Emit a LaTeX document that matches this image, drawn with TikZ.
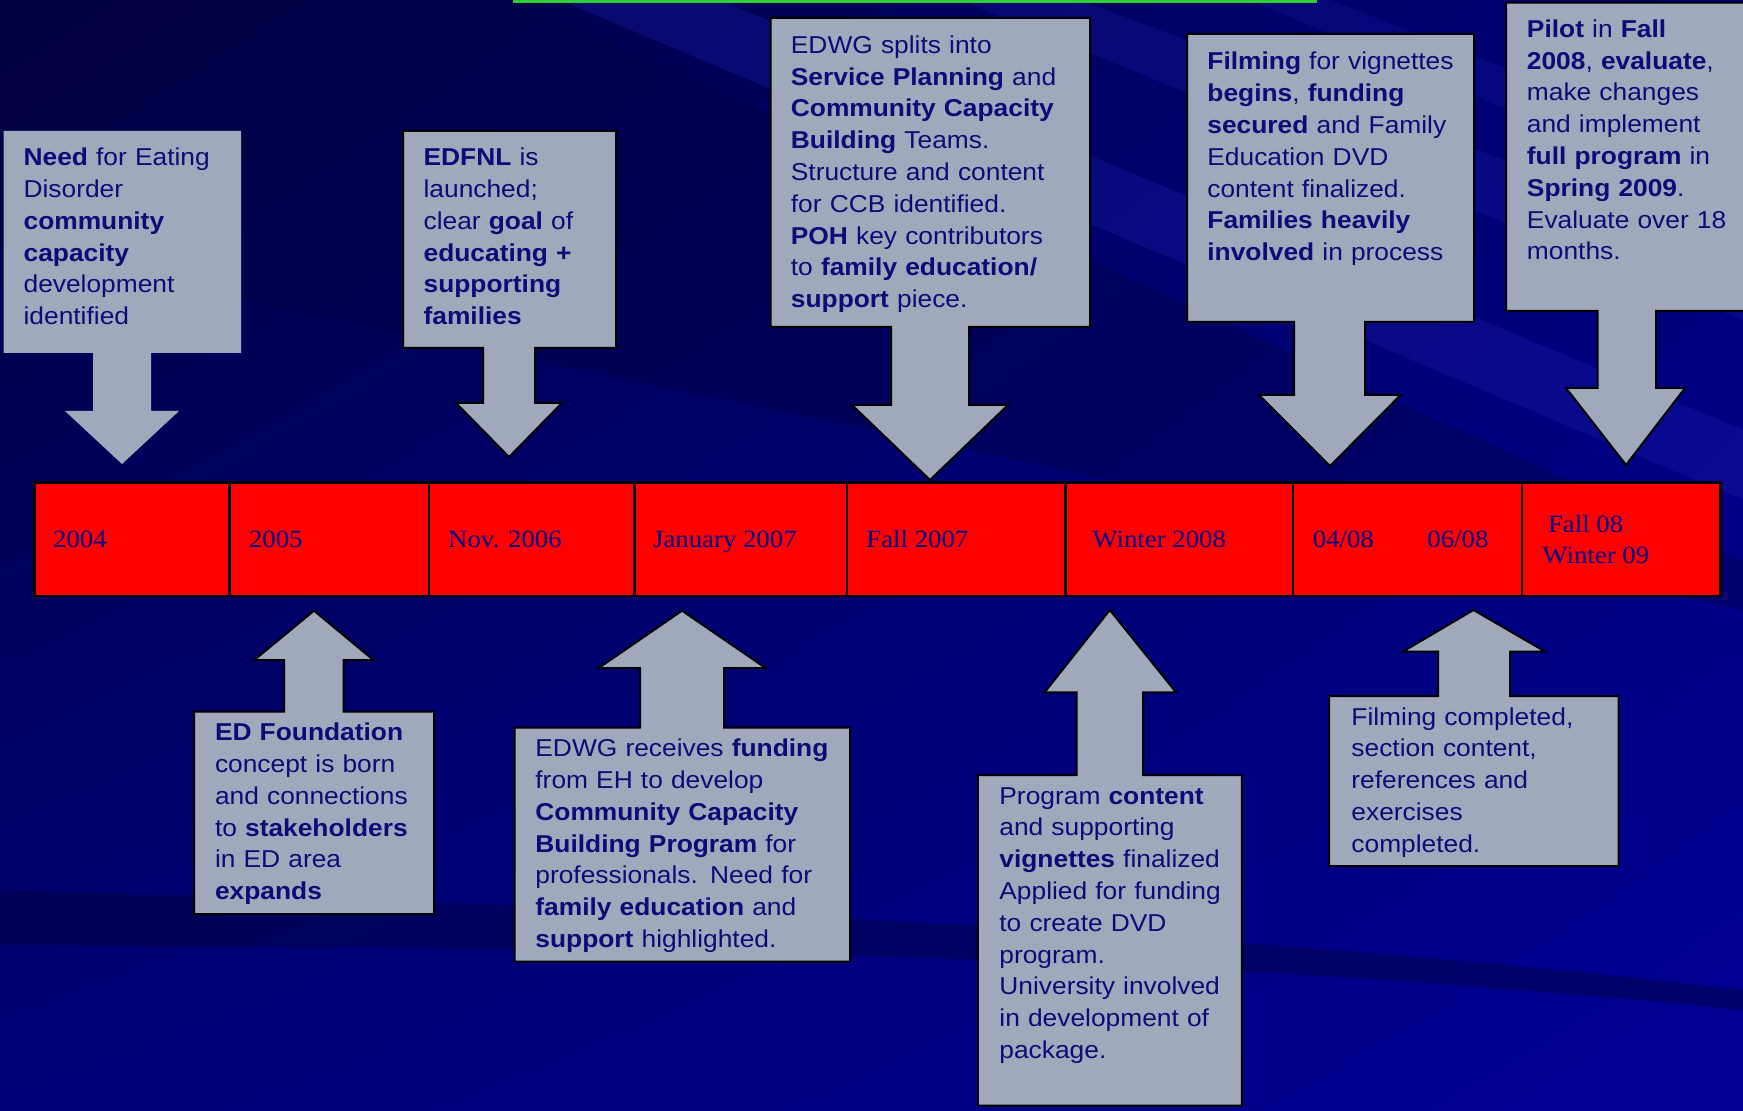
\documentclass[tikz,border=0pt]{standalone}
\usepackage{fontspec}
\usetikzlibrary{shadings}
\newfontfamily\boxfont{Liberation Sans}[FakeStretch=1.08]
\newfontfamily\barfont{Liberation Serif}[FakeStretch=1.08]
\definecolor{boxgrey}{HTML}{A0A8BC}
\definecolor{navy}{HTML}{0C0C78}
\definecolor{bartext}{HTML}{00008B}
\definecolor{barred}{HTML}{FF0000}
\definecolor{slidegreen}{HTML}{33CC33}
\definecolor{bgdark}{HTML}{000040}
\definecolor{bgmid}{HTML}{000078}
\definecolor{bglight}{HTML}{000096}
\definecolor{streak}{HTML}{2020B0}
\tikzset{
  callout/.style={fill=boxgrey, draw=black, line width=1pt, line join=miter},
  boxtext/.style={anchor=base west, inner sep=0pt, text width=170pt, align=left,
    text=navy, font=\boxfont\fontsize{12.2}{15.9}\selectfont},
  cell/.style={fill=barred, draw=black, line width=1.2pt},
  celltext/.style={anchor=base west, inner sep=0pt, text=bartext,
    font=\barfont\fontsize{12.4}{15.6}\selectfont},
}

\begin{document}
\begin{tikzpicture}[x=0.5pt, y=-0.5pt]

  \clip (0,0) rectangle (1743,1111);

  %% background
  \shade[upper left=bgdark, upper right=bgmid, lower left=bgmid, lower right=bglight]
  (0,0) rectangle (1743,1111);
  \fill[streak, opacity=0.30] (560,0) -- (720,0) -- (1743,430) -- (1743,500) -- cycle;
  \fill[streak, opacity=0.25] (960,0) -- (1080,0) -- (1743,250) -- (1743,320) -- cycle;
  \fill[streak, opacity=0.20] (1250,0) -- (1330,0) -- (1743,160) -- (1743,210) -- cycle;
  \fill[bgdark, opacity=0.35] (0,0) -- (520,0) -- (1743,560) -- (1743,610) -- (0,250) -- cycle;
  \fill[bgdark, opacity=0.45] (0,890) .. controls (500,905) and (1100,915) .. (1743,990)
  -- (1743,1010) .. controls (1100,945) and (500,950) .. (0,945) -- cycle;
  \fill[slidegreen] (513,0) rectangle (1317,3);

  %% time bar
  \draw[cell] (34.5,482.7) rectangle (1720.5,596);
  \foreach \d in {229.6,428.8,634.3,846.7,1065.3,1293,1522}
    \draw[line width=1.2pt] (\d,482.7) -- (\d,596);

  \node[celltext] (y2004) at (52.8,548) {2004};
  \node[celltext] (y2005) at (248.6,548) {2005};
  \node[celltext] (nov06) at (447.8,548) {Nov. 2006};
  \node[celltext] (jan07) at (652.7,548) {January 2007};
  \node[celltext] (fall07) at (866,548) {Fall 2007};
  \node[celltext] (win08) at (1092,548) {Winter 2008};
  \node[celltext] (apr08) at (1312.4,548) {04/08};
  \node[celltext] (jun08) at (1427,548) {06/08};
  \node[celltext] (fall08) at (1547.6,532.7) {Fall 08};
  \node[celltext] (win09) at (1542,564) {Winter 09};

  %% callouts above the bar
  \fill[boxgrey] (3.6,131) -- (241,131) -- (241,353) -- (151,353) -- (151,411)
  -- (179,411) -- (122,464) -- (65,411) -- (93,411) -- (93,353) -- (3.6,353) -- cycle; %% 2004
  \draw[callout] (403,131) -- (616,131) -- (616,348) -- (535,348) -- (535,403)
  -- (562,403) -- (509,457) -- (456,403) -- (483,403) -- (483,348) -- (403,348) -- cycle; %% nov 06
  \draw[callout] (770.5,18) -- (1090,18) -- (1090,327) -- (969,327) -- (969,405)
  -- (1008,405) -- (930,480) -- (852,405) -- (891,405) -- (891,327) -- (770.5,327) -- cycle; %% fall 07
  \draw[callout] (1187,34) -- (1474,34) -- (1474,322) -- (1365,322) -- (1365,395)
  -- (1400.6,395) -- (1330,466) -- (1259,395) -- (1294,395) -- (1294,322) -- (1187,322) -- cycle; %% 04/08
  \draw[callout] (1506,2.7) -- (1760,2.7) -- (1760,311) -- (1656,311) -- (1656,388)
  -- (1685,388) -- (1626,465) -- (1566,388) -- (1597.5,388) -- (1597.5,311) -- (1506,311) -- cycle; %% fall 08

  %% callouts below the bar
  \draw[callout] (194,914) -- (434,914) -- (434,711.7) -- (343.7,711.7) -- (343.7,660)
  -- (373.4,660) -- (314,610.7) -- (254.3,660) -- (284,660) -- (284,711.7) -- (194,711.7) -- cycle; %% 2005
  \draw[callout] (514.5,961.7) -- (850,961.7) -- (850,727.7) -- (724,727.7) -- (724,668)
  -- (765.6,668) -- (682,610.7) -- (598.7,668) -- (640,668) -- (640,727.7) -- (514.5,727.7) -- cycle; %% jan 07
  \draw[callout] (977.8,1105.7) -- (1241.9,1105.7) -- (1241.9,775) -- (1143,775) -- (1143,692.3)
  -- (1176,692.3) -- (1109.8,610) -- (1044.6,692.3) -- (1076.5,692.3) -- (1076.5,775) -- (977.8,775) -- cycle; %% winter 08
  \draw[callout] (1329,866) -- (1618.7,866) -- (1618.7,696) -- (1510,696) -- (1510,651.7)
  -- (1545.3,651.7) -- (1473.5,610) -- (1402.7,651.7) -- (1438,651.7) -- (1438,696) -- (1329,696) -- cycle; %% 06/08

  %% texts
  \node[boxtext] (need) at (23.2,165.7) {\textbf{Need} for Eating\\ Disorder\\ \textbf{community}\\
    \textbf{capacity}\\ development\\ identified};
  \node[boxtext] (edfnl) at (423.2,165.7) {\textbf{EDFNL} is\\ launched;\\ clear \textbf{goal} of\\
    \textbf{educating +}\\ \textbf{supporting}\\ \textbf{families}};
  \node[boxtext] (splits) at (790.5,53.3) {EDWG splits into\\ \textbf{Service Planning} and\\
    \textbf{Community Capacity}\\ \textbf{Building} Teams.\\ Structure and content\\
    for CCB identified.\\ \textbf{POH} key contributors\\ to \textbf{family education/}\\
    \textbf{support} piece.};
  \node[boxtext] (filming) at (1207,70) {\textbf{Filming} for vignettes\\ \textbf{begins}, \textbf{funding}\\
    \textbf{secured} and Family\\ Education DVD\\ content finalized.\\ \textbf{Families heavily}\\
    \textbf{involved} in process};
  \node[boxtext] (pilot) at (1526.5,37.3) {\textbf{Pilot} in \textbf{Fall}\\ \textbf{2008}, \textbf{evaluate},\\
    make changes\\ and implement\\ \textbf{full program} in\\ \textbf{Spring 2009}.\\
    Evaluate over 18\\ months.};

  \node[boxtext] (found) at (214.6,740.7) {\textbf{ED Foundation}\\ concept is born\\ and connections\\
    to \textbf{stakeholders}\\ in ED area\\ \textbf{expands}};
  \node[boxtext] (funds) at (535,756.7) {EDWG receives \textbf{funding}\\ from EH to develop\\
    \textbf{Community Capacity}\\ \textbf{Building Program} for\\ professionals. Need for\\
    \textbf{family education} and\\ \textbf{support} highlighted.};
  \node[boxtext] (content) at (999,804) {Program \textbf{content}\\ and supporting\\
    \textbf{vignettes} finalized\\ Applied for funding\\ to create DVD\\ program.\\
    University involved\\ in development of\\ package.};
  \node[boxtext] (done) at (1351,725) {Filming completed,\\ section content,\\ references and\\
    exercises\\ completed.};
\end{tikzpicture}
\end{document}
